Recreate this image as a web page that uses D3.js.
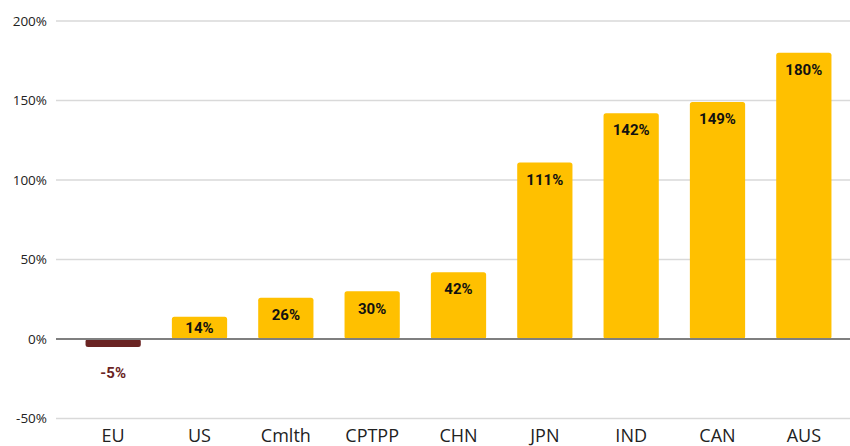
<!DOCTYPE html>
<html><head><meta charset="utf-8">
<script src="https://cdn.jsdelivr.net/npm/d3@7"></script>
<style>body{margin:0;background:#fff}svg{display:block}</style>
</head><body>
<svg id="c" width="850" height="446"></svg>
<script>
const categories = ["EU","US","Cmlth","CPTPP","CHN","JPN","IND","CAN","AUS"];
const values = [-5,14,26,30,42,111,142,149,180];
const labels = ["-5%","14%","26%","30%","42%","111%","142%","149%","180%"];
const yTicks = [-50,0,50,100,150,200];

const svg = d3.select("#c");
const x = d3.scaleBand().domain(categories).range([70,847]).paddingInner(0.36).paddingOuter(0.18);
const y = d3.scaleLinear().domain([-50,200]).range([418.5,21]);

// gridlines
svg.append("g").selectAll("line").data(yTicks.filter(d=>d!==0)).join("line")
  .attr("x1",56).attr("x2",850).attr("y1",d=>y(d)).attr("y2",d=>y(d))
  .attr("stroke","#d9d9d9").attr("stroke-width",1.3);

// y axis labels
const yAxis = d3.axisLeft(y).tickValues(yTicks).tickFormat(d=>d+"%").tickSize(0).tickPadding(0);
const ga = svg.append("g").attr("transform","translate(47,0)").call(yAxis);
ga.select(".domain").remove();
ga.selectAll("text").attr("font-family","'Open Sans',sans-serif").attr("font-size",13.5).attr("fill","#222");

// bars
svg.append("g").selectAll("rect").data(values).join("rect")
  .attr("x",(d,i)=>x(categories[i]))
  .attr("width",x.bandwidth())
  .attr("y",d=>y(Math.max(0,d)))
  .attr("height",d=>Math.abs(y(d)-y(0)))
  .attr("rx",2.5)
  .attr("fill",d=>d<0?"#6a2423":"#ffc000");

// zero line
svg.append("line").attr("x1",56).attr("x2",850).attr("y1",y(0)).attr("y2",y(0))
  .attr("stroke","#7f7f7f").attr("stroke-width",2);

// value labels
svg.append("g").selectAll("text").data(values).join("text")
  .attr("x",(d,i)=>x(categories[i])+x.bandwidth()/2)
  .attr("y",d=>{
    if(d<0) return y(d)+26;
    const top=y(d), bot=y(0);
    return Math.min(top+17,(top+bot)/2);
  })
  .attr("dy","0.35em")
  .attr("text-anchor","middle")
  .attr("font-family","Roboto,sans-serif").attr("font-weight","bold").attr("font-size",15)
  .attr("fill",d=>d<0?"#6a2423":"#111")
  .text((d,i)=>labels[i]);

// category labels
const xAxis = d3.axisBottom(x).tickSize(0).tickPadding(0);
const gx = svg.append("g").attr("transform","translate(0,436)").call(xAxis);
gx.select(".domain").remove();
gx.selectAll("text").attr("y",0).attr("dy","0.33em").attr("font-family","'Open Sans',sans-serif").attr("font-size",18).attr("fill","#222");
</script>
</body></html>
